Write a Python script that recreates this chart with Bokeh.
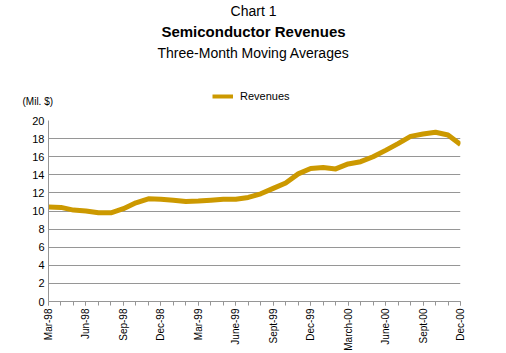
import math
from bokeh.plotting import figure
from bokeh.layouts import column
from bokeh.models import (Range1d, FixedTicker, Label, Legend, LegendItem, ColumnDataSource)
from bokeh.embed import file_html
from bokeh.resources import INLINE

# ---- data ----
month_labels = ["Mar-98", "Apr-98", "May-98", "Jun-98", "Jul-98", "Aug-98", "Sep-98", "Oct-98",
                "Nov-98", "Dec-98", "Jan-99", "Feb-99", "Mar-99", "Apr-99", "May-99", "June-99",
                "Jul-99", "Aug-99", "Sept-99", "Oct-99", "Nov-99", "Dec-99", "Jan-00", "Feb-00",
                "March-00", "Apr-00", "May-00", "June-00", "Jul-00", "Aug-00", "Sept-00", "Oct-00",
                "Nov-00", "Dec-00"]
revenues = [10.45, 10.4, 10.1, 10.0, 9.8, 9.8, 10.25, 10.9, 11.35, 11.3, 11.2, 11.05,
            11.1, 11.2, 11.3, 11.3, 11.5, 11.9, 12.5, 13.1, 14.1, 14.7, 14.8, 14.65,
            15.2, 15.45, 16.0, 16.7, 17.45, 18.25, 18.5, 18.7, 18.4, 17.35]
shown_labels = ["Mar-98", "Jun-98", "Sep-98", "Dec-98", "Mar-99", "June-99", "Sept-99",
                "Dec-99", "March-00", "June-00", "Sept-00", "Dec-00"]
y_ticks = [0, 2, 4, 6, 8, 10, 12, 14, 16, 18, 20]

title_top = "Chart 1"
title_main = "Semiconductor Revenues"
title_sub = "Three-Month Moving Averages"
unit_label = "(Mil. $)"
series_name = "Revenues"

FONT = "Liberation Sans"
GRID = "#969696"
LINE = "#CC9900"

xs = list(range(len(month_labels)))
src = ColumnDataSource(dict(x=xs, y=revenues))

# ---- header figure (titles, legend, unit label) ----
W, HT = 506, 116
top = figure(width=W, height=HT, output_backend="svg", toolbar_location=None,
             x_range=Range1d(0, W), y_range=Range1d(0, HT),
             x_axis_type=None, y_axis_type=None,
             min_border_left=0, min_border_right=0, min_border_top=0, min_border_bottom=0)
top.frame_align = False
top.outline_line_color = None
top.grid.grid_line_color = None

def header_label(x, y_from_top, text, size, align="center", style="normal"):
    top.add_layout(Label(x=x, y=HT - y_from_top, text=text, text_font=FONT, text_font_size=size,
                         text_font_style=style, text_align=align, text_baseline="middle",
                         text_color="black"))

header_label(253, 10, title_top, "14px")
header_label(253, 31, title_main, "15px", style="bold")
header_label(253, 52, title_sub, "14px")
header_label(22, 101, unit_label, "10px", align="left")

# invisible renderer that only feeds the legend swatch
legend_r = top.line("x", "y", source=src, line_color=LINE, line_width=4, visible=False)
legend = Legend(items=[LegendItem(label=series_name, renderers=[legend_r])],
                location=(212, HT - 102),
                orientation="horizontal", padding=0, margin=0, border_line_color=None,
                background_fill_alpha=0, inactive_fill_alpha=0, glyph_width=21, glyph_height=10,
                label_height=10, label_standoff=7, label_text_font=FONT,
                label_text_font_size="11px", label_text_color="black")
top.add_layout(legend, "center")

# ---- main chart ----
p = figure(width=W, height=353 - HT, output_backend="svg", toolbar_location=None,
           x_range=Range1d(0, len(month_labels) - 1), y_range=Range1d(0, 20),
           min_border_left=48, min_border_right=46, min_border_top=4, min_border_bottom=52)
p.frame_align = False
p.outline_line_color = None

p.line("x", "y", source=src, line_color=LINE, line_width=5, line_join="round")

major_idx = [month_labels.index(l) for l in shown_labels]
p.xaxis.ticker = FixedTicker(ticks=major_idx, minor_ticks=xs)
p.xaxis.major_label_overrides = {i: month_labels[i] for i in major_idx}
p.xaxis.major_label_orientation = math.pi / 2
p.xaxis.major_label_text_font = FONT
p.xaxis.major_label_text_font_size = "10px"
p.xaxis.major_label_text_color = "black"
p.xaxis.major_label_standoff = 3
p.xaxis.axis_line_color = GRID
p.xaxis.major_tick_line_color = GRID
p.xaxis.minor_tick_line_color = GRID
p.xaxis.major_tick_in = 0
p.xaxis.major_tick_out = 4
p.xaxis.minor_tick_in = 0
p.xaxis.minor_tick_out = 4

p.yaxis.ticker = FixedTicker(ticks=y_ticks)
p.yaxis.major_label_text_font = FONT
p.yaxis.major_label_text_font_size = "11px"
p.yaxis.major_label_text_color = "black"
p.yaxis.major_label_standoff = 4
p.yaxis.axis_line_color = GRID
p.yaxis.major_tick_in = 0
p.yaxis.major_tick_out = 0
p.yaxis.minor_tick_line_color = None

p.xgrid.grid_line_color = None
p.ygrid.grid_line_color = GRID
p.ygrid.grid_line_width = 1

layout = column(top, p, spacing=0)
open("out.html", "w").write(file_html(layout, INLINE))
